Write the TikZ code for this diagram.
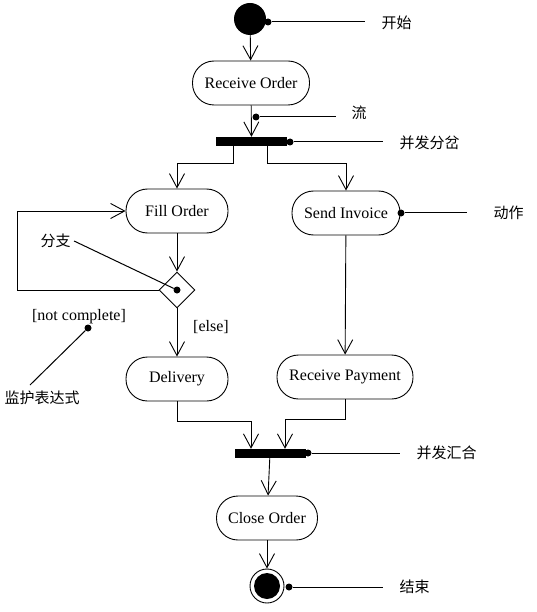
\documentclass[tikz,border=0pt]{standalone}
\usepackage{fontspec}
\setmainfont{Liberation Serif}
\newfontfamily\cjk{Noto Sans CJK SC}
\usetikzlibrary{arrows.meta,shapes.geometric}
\tikzset{
  act/.style={rectangle,rounded corners=21.5pt,draw,line width=0.9pt,minimum height=44pt,inner sep=0pt,font=\fontsize{16}{18}\selectfont},
  bar/.style={rectangle,fill=black,minimum width=71pt,minimum height=9pt,inner sep=0pt},
  dot/.style={circle,fill=black,inner sep=0pt,minimum size=7pt},
  note/.style={anchor=west,font=\cjk\fontsize{15}{17}\selectfont},
  flow/.style={-{Straight Barb[length=14pt,width=15pt]},line width=0.9pt},
  lead/.style={line width=1pt}
}
\begin{document}
\begin{tikzpicture}[x=1pt,y=-1pt]
\useasboundingbox (0,0) rectangle (536,612);
% activities
\foreach \x/\y/\w/\name/\txt in {251/83/117/recv/Receive Order,177/211/102/fill/Fill Order,346/213/108/invoice/Send Invoice,177/379/102/delivery/Delivery,345/377/136/payment/Receive Payment,267/518/101/close/Close Order}
{
\node[act,minimum width=\w pt] (\name) at (\x,\y) {\txt};
}
\node[circle,fill=black,minimum size=32pt,inner sep=0pt] (start) at (250,19) {};
\node[circle,draw,line width=0.9pt,minimum size=34pt,inner sep=0pt] (stop) at (267,586) {};
\node[circle,fill=black,minimum size=26pt,inner sep=0pt] at (stop) {};
\node[bar] (fork) at (251.5,141.5) {};
\node[bar] (join) at (270,453.5) {};
\node[diamond,draw,line width=0.9pt,minimum size=36pt,inner sep=0pt] (branch) at (177,290) {};
% flows
\draw[flow] (start) -- (recv);
\draw[flow] (recv) -- (fork);
\draw[flow] ([xshift=-18.5pt]fork.south) -- ++(0,17) -| (fill.north);
\draw[flow] ([xshift=15.5pt]fork.south) -- ++(0,17) -| (invoice.north);
\draw[flow] (fill) -- (branch);
\draw[flow] (branch.west) -- ++(-141,0) |- (fill.west);
\draw[flow] (branch) -- (delivery);
\draw[flow] (invoice) -- (payment);
\draw[flow] (delivery.south) -- ++(0,20) -| ([xshift=-19pt]join.north);
\draw[flow] (payment.south) -- ++(0,20) -| ([xshift=15pt]join.north);
\draw[flow] (join) -- (close);
\draw[flow] (close) -- (stop);
% guards
\node[font=\fontsize{16}{18}\selectfont] (guard1) at (79,317) {[not complete]};
\node[font=\fontsize{16}{18}\selectfont] (guard2) at (211,327) {[else]};
% notes
\node[note] (nstart) at (378,23) {开始};
\node[note] (nflow) at (348,113) {流};
\node[note] (nfork) at (396,143) {并发分岔};
\node[note] (nact) at (490,213) {动作};
\node[note] (nbranch) at (37,241) {分支};
\node[note] (nguard) at (1,398) {监护表达式};
\node[note] (njoin) at (413,453) {并发汇合};
\node[note] (nstop) at (396,587) {结束};
\node[dot] (d1) at (268,22) {};
\node[dot] (d2) at (256,117) {};
\node[dot] (d3) at (290,142) {};
\node[dot] (d4) at (401,213) {};
\node[dot] (d5) at (177,290) {};
\node[dot] (d6) at (88,328) {};
\node[dot] (d7) at (308,453) {};
\node[dot] (d8) at (289,587) {};
\draw[lead] (d1) -- ++(97,0);
\draw[lead] (d2) -- ++(80,0);
\draw[lead] (d3) -- ++(93,0);
\draw[lead] (d4) -- ++(66,0);
\draw[lead] (d5) -- (nbranch.east);
\draw[lead] (d6) -- (30,385);
\draw[lead] (d7) -- ++(92,0);
\draw[lead] (d8) -- ++(94,0);
\end{tikzpicture}
\end{document}
